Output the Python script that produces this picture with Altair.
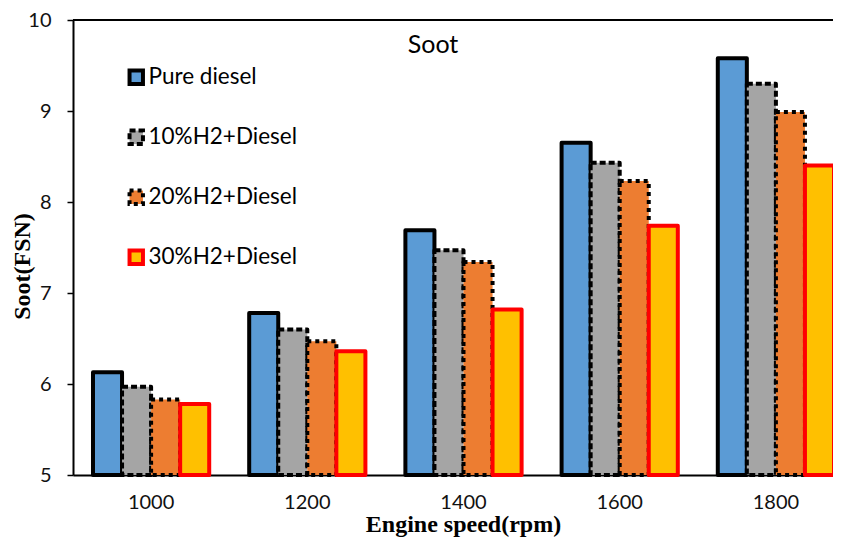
import altair as alt
import pandas as pd

speeds = ["1000", "1200", "1400", "1600", "1800"]
series = ["Pure diesel", "10%H2+Diesel", "20%H2+Diesel", "30%H2+Diesel"]
pure = [6.13, 6.78, 7.69, 8.65, 9.58]
h10 = [5.97, 6.60, 7.47, 8.43, 9.30]
h20 = [5.83, 6.47, 7.34, 8.23, 8.99]
h30 = [5.78, 6.36, 6.82, 7.74, 8.40]
fills = ["#5B9BD5", "#A5A5A5", "#ED7D31", "#FFC000"]
strokes = ["#000000", "#000000", "#000000", "#FF0000"]
dashes = [[1, 0], [6, 3], [4, 4], [1, 0]]

rows = []
for s, vals in zip(series, [pure, h10, h20, h30]):
    for sp, v in zip(speeds, vals):
        rows.append({"Speed": sp, "Series": s, "Soot": v})
df = pd.DataFrame(rows)

W, H = 760, 455
FULL = 781  # the band scale runs past the visible right edge, as in the original

bars = alt.Chart(df).mark_bar(strokeWidth=4, strokeJoin="round").encode(
    x=alt.X("Speed:N", sort=speeds,
            scale=alt.Scale(paddingInner=0.256, paddingOuter=0.128, range=[0, FULL]),
            axis=alt.Axis(title="Engine speed(rpm)", labelAngle=0, ticks=False,
                          labelFont="Lato", labelFontSize=20, labelColor="#111",
                          labelPadding=17, domainColor="#000", domainWidth=2,
                          titleFont="Liberation Serif", titleFontSize=24,
                          titleFontWeight="bold", titleColor="#000", titlePadding=0,
                          titleX=390)),
    xOffset=alt.XOffset("Series:N", sort=series,
                        scale=alt.Scale(domain=series, paddingInner=0, paddingOuter=0)),
    y=alt.Y("Soot:Q", scale=alt.Scale(domain=[5, 10], zero=False, nice=False),
            axis=alt.Axis(title="Soot(FSN)", values=[5, 6, 7, 8, 9, 10], grid=False,
                          labelFont="Lato", labelFontSize=20, labelColor="#111",
                          labelPadding=16, tickSize=6, tickColor="#000", tickWidth=1.5,
                          domainColor="#000", domainWidth=2,
                          titleFont="Liberation Serif", titleFontSize=24,
                          titleFontWeight="bold", titleColor="#000",
                          titleX=-51, titleY=246, titleBaseline="middle",
                          titleAlign="center", titleAngle=270)),
    y2=alt.datum(5),
    fill=alt.Fill("Series:N", sort=series, scale=alt.Scale(domain=series, range=fills), title=None),
    stroke=alt.Stroke("Series:N", sort=series, scale=alt.Scale(domain=series, range=strokes), title=None),
    strokeDash=alt.StrokeDash("Series:N", sort=series, scale=alt.Scale(domain=series, range=dashes), title=None),
)

top_line = alt.Chart(pd.DataFrame({"a": [0]})).mark_rule(color="#000", strokeWidth=2).encode(
    x=alt.value(0), x2=alt.value(FULL), y=alt.value(0)
)

title_txt = alt.Chart(pd.DataFrame({"t": ["Soot"]})).mark_text(
    font="Lato", fontSize=25, color="#000", baseline="middle", align="center"
).encode(text="t:N", x=alt.value(360), y=alt.value(25))

chart = alt.layer(bars, top_line, title_txt).properties(
    width=W, height=H,
    autosize=alt.AutoSizeParams(type="none"),
    padding={"left": 65, "top": 12, "right": 0, "bottom": 62},
).configure_view(stroke=None).configure_legend(
    orient="none", legendX=52, legendY=46, symbolType="square", symbolSize=180,
    symbolStrokeWidth=4, labelFont="Lato", labelFontSize=22.5, labelColor="#000",
    rowPadding=30, labelOffset=1, titleFontSize=0
)

chart.save("out.html", embed_options={"renderer": "svg", "actions": False})
